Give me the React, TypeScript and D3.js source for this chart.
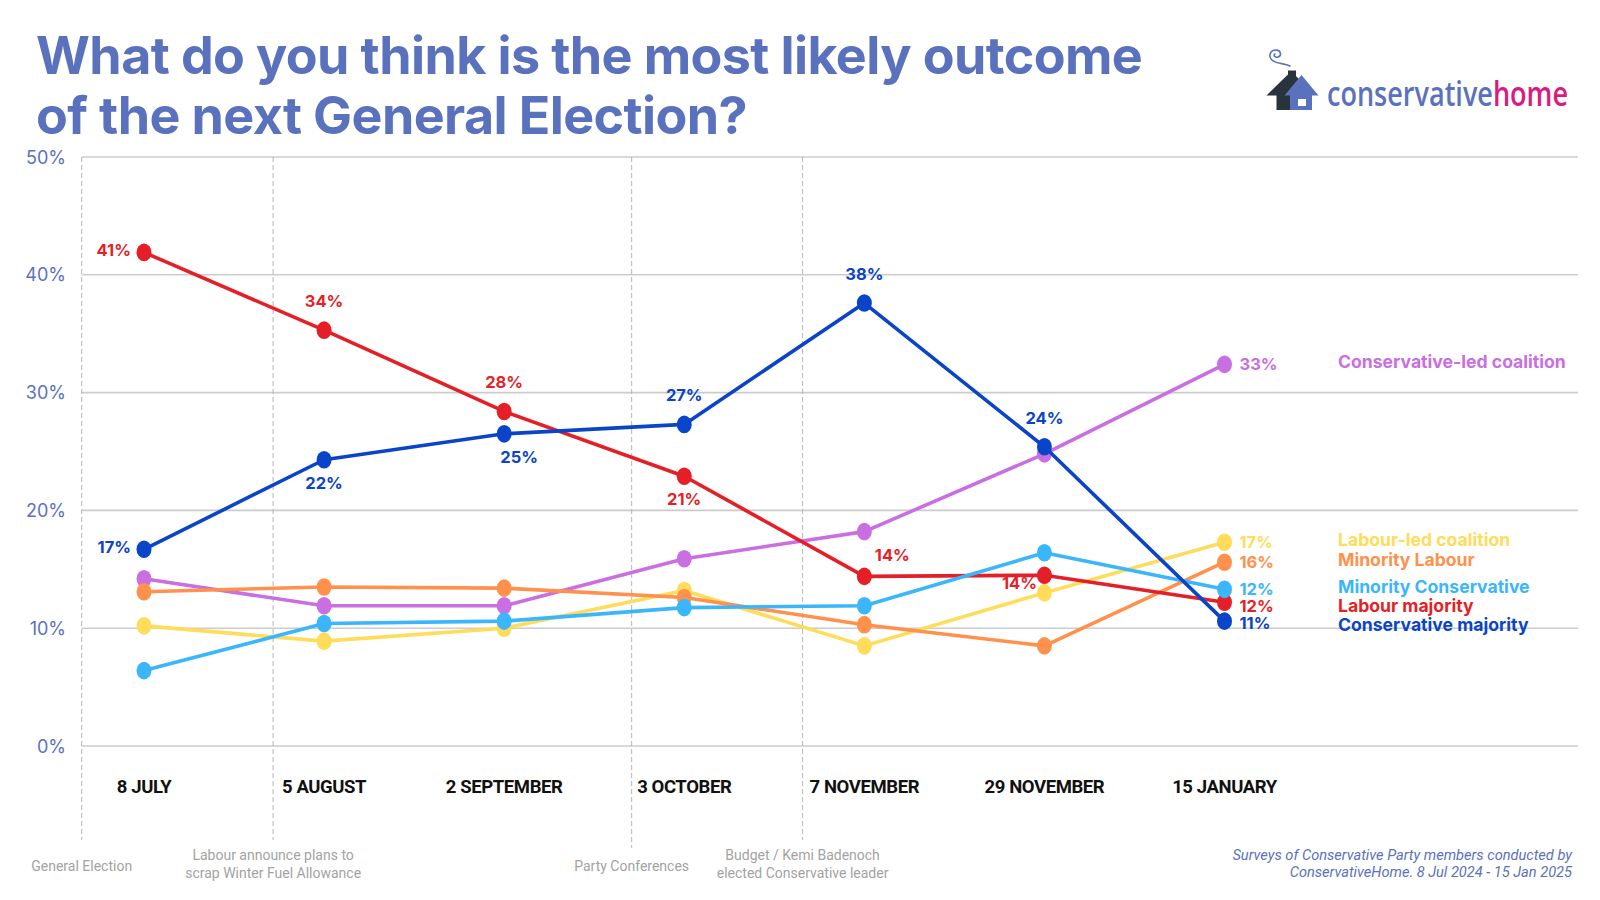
import { useLayoutEffect, useRef, useState } from "react";
import * as d3 from "d3";

// survey dates (x categories)
const surveys = ["8 JULY", "5 AUGUST", "2 SEPTEMBER", "3 OCTOBER", "7 NOVEMBER", "29 NOVEMBER", "15 JANUARY"];

// series values (%)
const conservativeMajority = [16.7, 24.3, 26.5, 27.3, 37.6, 25.4, 10.6];
const labourMajority = [41.9, 35.3, 28.4, 22.9, 14.4, 14.5, 12.2];
const conservativeLedCoalition = [14.2, 11.9, 11.9, 15.9, 18.2, 24.8, 32.4];
const minorityLabour = [13.1, 13.5, 13.4, 12.6, 10.3, 8.5, 15.6];
const labourLedCoalition = [10.2, 8.9, 10.0, 13.2, 8.5, 13.0, 17.3];
const minorityConservative = [6.4, 10.4, 10.6, 11.75, 11.9, 16.4, 13.3];

// printed value labels (as shown on the chart)
const conservativeMajorityLabels = ["17%", "22%", "25%", "27%", "38%", "24%", "11%"];
const labourMajorityLabels = ["41%", "34%", "28%", "21%", "14%", "14%", "12%"];
const conservativeLedLabels = [null, null, null, null, null, null, "33%"];
const minorityLabourLabels = [null, null, null, null, null, null, "16%"];
const labourLedLabels = [null, null, null, null, null, null, "17%"];
const minorityConservativeLabels = [null, null, null, null, null, null, "12%"];

const yTicks = [0, 10, 20, 30, 40, 50];

// events: label lines, after category index, fraction towards the next one
const events = [
  { lines: ["General Election"], after: -1, frac: 1 },
  { lines: ["Labour announce plans to", "scrap Winter Fuel Allowance"], after: 0, frac: 0.717 },
  { lines: ["Party Conferences"], after: 2, frac: 0.708 },
  { lines: ["Budget / Kemi Badenoch", "elected Conservative leader"], after: 3, frac: 0.657 },
];

const BLUE = "#5a72bd";

type Place = "left" | "right" | "above" | "below" | "belowRight" | "aboveRight" | "leftLow";

const series = [
  { name: "Labour-led coalition", values: labourLedCoalition, labels: labourLedLabels, color: "#ffdc5a", place: [] as Place[] },
  { name: "Conservative-led coalition", values: conservativeLedCoalition, labels: conservativeLedLabels, color: "#c96fe2", place: [] as Place[] },
  { name: "Minority Labour", values: minorityLabour, labels: minorityLabourLabels, color: "#ff914d", place: [] as Place[] },
  { name: "Labour majority", values: labourMajority, labels: labourMajorityLabels, color: "#e51f27",
    place: ["left", "above", "above", "below", "aboveRight", "leftLow", "right"] as Place[] },
  { name: "Minority Conservative", values: minorityConservative, labels: minorityConservativeLabels, color: "#3bb6fb", place: [] as Place[] },
  { name: "Conservative majority", values: conservativeMajority, labels: conservativeMajorityLabels, color: "#0a44c8",
    place: ["left", "below", "belowRight", "above", "above", "above", "right"] as Place[] },
];

const W = 1600;
const H = 900;
const plotLeft = 81.7;
const plotRight = 1578;

const x = d3.scalePoint<string>().domain(surveys).range([144, 1224.5]);
const y = d3.scaleLinear().domain([0, 50]).range([746, 157]);

const line = d3.line<number>()
  .x((_, i) => x(surveys[i]) as number)
  .y((d) => y(d));

// spread end labels so they don't collide
function spread(items: { key: string; y: number }[], gap: number) {
  const sorted = [...items].sort((a, b) => a.y - b.y);
  for (let i = 1; i < sorted.length; i++) {
    if (sorted[i].y - sorted[i - 1].y < gap) sorted[i].y = sorted[i - 1].y + gap;
  }
  const out: Record<string, number> = {};
  sorted.forEach((s) => (out[s.key] = s.y));
  return out;
}

const last = surveys.length - 1;
const endValueY = spread(series.map((s) => ({ key: s.name, y: y(s.values[last]) })), 17);
const legendY = spread(series.map((s) => ({ key: s.name, y: y(s.values[last]) - 3 })), 19);

function labelPos(px: number, py: number, p: Place) {
  switch (p) {
    case "left": return { x: px - 13, y: py - 2, anchor: "end" };
    case "right": return { x: px + 15, y: py, anchor: "start" };
    case "above": return { x: px, y: py - 29, anchor: "middle" };
    case "below": return { x: px, y: py + 23, anchor: "middle" };
    case "belowRight": return { x: px + 15, y: py + 23, anchor: "middle" };
    case "aboveRight": return { x: px + 28, y: py - 21, anchor: "middle" };
    case "leftLow": return { x: px - 25, y: py + 8, anchor: "middle" };
  }
}

function eventX(after: number, frac: number) {
  if (after < 0) return plotLeft;
  const a = x(surveys[after]) as number;
  const b = x(surveys[after + 1]) as number;
  return a + (b - a) * frac;
}

function Logo() {
  const textRef = useRef<SVGTextElement>(null);
  const [sx, setSx] = useState(0.78);
  useLayoutEffect(() => {
    if (textRef.current) {
      const w = textRef.current.getComputedTextLength();
      if (w > 0) setSx(241 / w);
    }
  }, []);
  return (
    <g>
      <path d="M1290,66 C1284,63 1276,64 1272,60 C1268,56 1270,50 1276,50 C1281,50 1282,56 1278,57 C1275,58 1273,55 1275,54"
        fill="none" stroke={BLUE} strokeWidth={1.6} strokeLinecap="round" />
      <rect x={1288} y={70.5} width={8} height={9} fill="#28333d" />
      <polygon points="1266.5,95.5 1291,71.5 1299,79 1290,95.5" fill="#28333d" />
      <rect x={1276.5} y={94} width={14} height={16} fill="#28333d" />
      <polygon points="1284.5,95.5 1301.5,75 1318.5,95.5" fill={BLUE} />
      <rect x={1290} y={93} width={22} height={17} fill={BLUE} />
      <rect x={1298} y={99} width={8} height={7} fill="#fff" />
      <g transform={`translate(1327,106) scale(${sx},1)`}>
        <text ref={textRef} x={0} y={0} fontFamily="'Open Sans', sans-serif" fontWeight={600} fontSize={35}>
          <tspan fill={BLUE}>conservative</tspan><tspan fill="#d81b80">home</tspan>
        </text>
      </g>
    </g>
  );
}

export default function App() {
  return (
    <svg width={W} height={H} style={{ position: "fixed", left: 0, top: 0, background: "#fff" }}
      fontFamily="Inter, 'Noto Sans', sans-serif">
      <rect width={W} height={H} fill="#fff" />

      {/* title */}
      <text x={36} y={73.5} fontSize={52} fontWeight={700} fill={BLUE} letterSpacing={-0.6}>
        What do you think is the most likely outcome
      </text>
      <text x={36} y={133.5} fontSize={52} fontWeight={700} fill={BLUE} letterSpacing={-0.6}>
        of the next General Election?
      </text>
      <Logo />

      {/* gridlines + y labels */}
      {yTicks.map((t) => (
        <g key={t}>
          <line x1={plotLeft} x2={plotRight} y1={y(t)} y2={y(t)} stroke="#cccccc" strokeWidth={1.6} />
          <text x={66} y={y(t)} textAnchor="end" dominantBaseline="central" fontSize={18} fill={BLUE}>
            {t}%
          </text>
        </g>
      ))}

      {/* event lines and notes */}
      {events.map((e, i) => {
        const ex = eventX(e.after, e.frac);
        const ty = e.lines.length > 1 ? 855 : 866;
        return (
          <g key={i}>
            <line x1={ex} x2={ex} y1={y(50)} y2={i === 2 ? 848 : 840} stroke="#b5b5b5" strokeWidth={1} strokeDasharray="5,3" />
            {e.lines.map((l, j) => (
              <text key={j} x={ex} y={ty + j * 18} textAnchor="middle" dominantBaseline="central"
                fontFamily="Roboto, sans-serif" fontSize={14} fill="#a3a3a3">
                {l}
              </text>
            ))}
          </g>
        );
      })}

      {/* x category labels */}
      {surveys.map((s) => (
        <text key={s} x={x(s)} y={787} textAnchor="middle" dominantBaseline="central"
          fontFamily="Roboto, sans-serif" fontWeight={700} fontSize={18.5} fill="#111" letterSpacing={-0.4}>
          {s}
        </text>
      ))}

      {/* lines + markers */}
      {series.map((s) => (
        <g key={s.name}>
          <path d={line(s.values) ?? ""} fill="none" stroke={s.color} strokeWidth={3.6} strokeLinejoin="round" />
          {s.values.map((v, i) => (
            <ellipse key={i} cx={x(surveys[i])} cy={y(v)} rx={7.5} ry={8.8} fill={s.color} />
          ))}
        </g>
      ))}

      {/* value labels */}
      {series.map((s) => (
        <g key={s.name + "-lab"}>
          {s.labels.map((lab, i) => {
            if (!lab) return null;
            const px = x(surveys[i]) as number;
            const py = y(s.values[i]);
            const p = i === last ? { x: px + 15, y: endValueY[s.name], anchor: "start" } : labelPos(px, py, s.place[i]);
            return (
              <text key={i} x={p.x} y={p.y} textAnchor={p.anchor as any} dominantBaseline="central"
                fontSize={16.5} fontWeight={700} fill={s.color}>
                {lab}
              </text>
            );
          })}
        </g>
      ))}

      {/* legend */}
      {series.map((s) => (
        <text key={s.name + "-leg"} x={1338} y={legendY[s.name]} dominantBaseline="central"
          fontSize={17.6} fontWeight={700} fill={s.color}>
          {s.name}
        </text>
      ))}

      {/* source */}
      <text x={1572} y={855} textAnchor="end" dominantBaseline="central" fontFamily="Roboto, sans-serif"
        fontStyle="italic" fontSize={14.6} fill={BLUE}>
        Surveys of Conservative Party members conducted by
      </text>
      <text x={1572} y={872} textAnchor="end" dominantBaseline="central" fontFamily="Roboto, sans-serif"
        fontStyle="italic" fontSize={14.6} fill={BLUE}>
        ConservativeHome. 8 Jul 2024 - 15 Jan 2025
      </text>
    </svg>
  );
}
